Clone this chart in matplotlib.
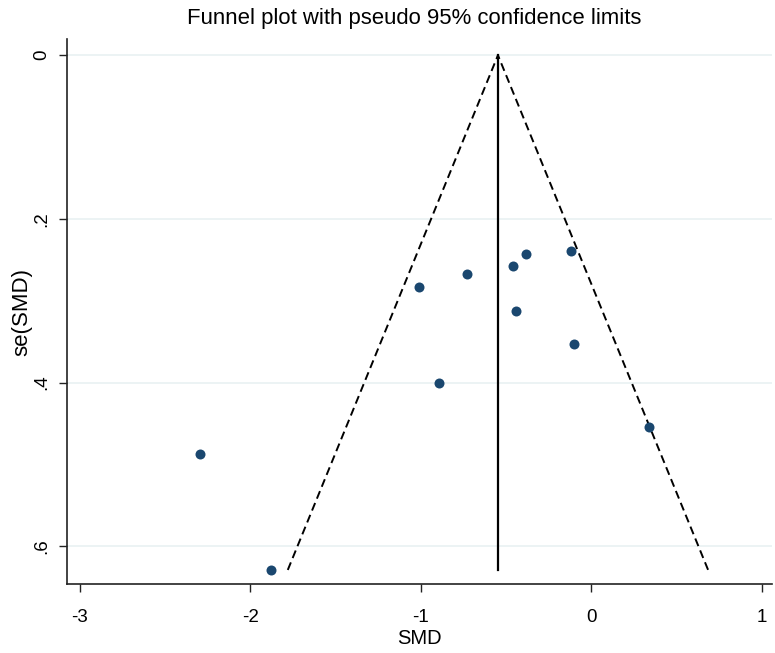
import matplotlib
matplotlib.use("Agg")
import matplotlib.pyplot as plt
import numpy as np

plt.rcParams['font.family'] = ['Liberation Sans', 'DejaVu Sans']

smd = [-2.295, -1.880, -1.009, -0.727, -0.893, -0.461, -0.385, -0.442, -0.117, -0.101, 0.340]
se_smd = [0.487, 0.629, 0.283, 0.267, 0.401, 0.257, 0.243, 0.313, 0.239, 0.353, 0.454]
pooled = -0.547
x_ticks = [-3, -2, -1, 0, 1]
y_ticks = [0, 0.2, 0.4, 0.6]
y_tick_labels = ['0', '.2', '.4', '.6']

fig = plt.figure(figsize=(7.75, 6.53), dpi=100)
ax = fig.add_axes([0.086, 0.105, 0.91, 0.835])

semax = max(se_smd)
z = 1.96
ax.plot([pooled - z * semax, pooled, pooled + z * semax], [semax, 0, semax],
        color='black', lw=1.4, ls=(0, (4.2, 2.4)), zorder=2)
ax.plot([pooled, pooled], [0, semax], color='black', lw=1.6, zorder=2)
ax.plot(smd, se_smd, 'o', color='#1a476f', markersize=7.2, markeredgewidth=0, zorder=3)

for yv in y_ticks:
    ax.axhline(yv, color='#eaf2f3', lw=1.3, zorder=0)

ax.set_xlim(-3.077, 1.06)
ax.set_ylim(0.6467, -0.0196)
ax.set_xticks(x_ticks)
ax.set_xticklabels([str(v) for v in x_ticks])
ax.set_yticks(y_ticks)
ax.set_yticklabels(y_tick_labels, rotation=90, va='center')

for s in ['top', 'right']:
    ax.spines[s].set_visible(False)
for s in ['left', 'bottom']:
    ax.spines[s].set_color('#222222')
    ax.spines[s].set_linewidth(1.2)

ax.tick_params(axis='x', length=6, width=1, color='#222222', labelsize=13.5, pad=12)
ax.tick_params(axis='y', length=6, width=1, color='#222222', labelsize=13.5, pad=6)

ax.set_xlabel('SMD', fontsize=14.5, labelpad=2)
ax.set_ylabel('se(SMD)', fontsize=16)
ax.yaxis.set_label_coords(-0.048, 0.5)
fig.text(0.535, 0.972, 'Funnel plot with pseudo 95% confidence limits', ha='center', va='center', fontsize=15.9)

fig.savefig('out.png', dpi=100)
